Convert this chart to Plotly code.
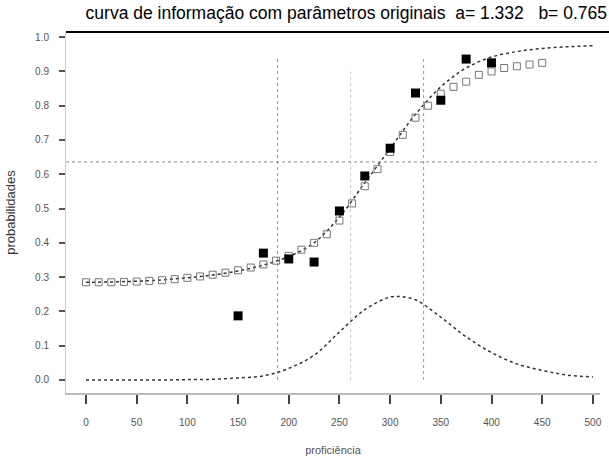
import plotly.graph_objects as go

# curva ajustada
curve_x = [0, 25, 50, 75, 100, 125, 150, 175, 200, 225, 250, 275, 300, 325, 350, 375, 400, 425, 450, 475, 500]
curve_y = [0.285, 0.286, 0.288, 0.292, 0.298, 0.306, 0.318, 0.335, 0.36, 0.40, 0.475, 0.575, 0.675, 0.775,
           0.855, 0.91, 0.942, 0.958, 0.967, 0.972, 0.975]

# probabilidades esperadas (quadrados abertos)
exp_x = [0, 12.5, 25, 37.5, 50, 62.5, 75, 87.5, 100, 112.5, 125, 137.5, 150, 162.5, 175, 187.5, 200, 212.5,
         225, 237.5, 250, 262.5, 275, 287.5, 300, 312.5, 325, 337.5, 350, 362.5, 375, 387.5, 400, 412.5,
         425, 437.5, 450]
exp_y = [0.285, 0.285, 0.285, 0.286, 0.287, 0.289, 0.291, 0.294, 0.298, 0.302, 0.307, 0.313, 0.32, 0.328,
         0.337, 0.348, 0.362, 0.38, 0.40, 0.425, 0.465, 0.515, 0.565, 0.615, 0.665, 0.715, 0.765, 0.80,
         0.835, 0.855, 0.87, 0.89, 0.90, 0.91, 0.915, 0.92, 0.925]

# probabilidades observadas (quadrados cheios)
obs_x = [150, 175, 200, 225, 250, 275, 300, 325, 350, 375, 400]
obs_y = [0.187, 0.37, 0.353, 0.344, 0.493, 0.595, 0.676, 0.837, 0.816, 0.936, 0.925]

# curva de informacao
info_x = [0, 25, 50, 75, 100, 125, 150, 175, 200, 225, 250, 275, 300, 310, 325, 350, 375, 400, 425, 450, 475, 500]
info_y = [0, 0, 0, 0, 0.001, 0.002, 0.006, 0.012, 0.034, 0.072, 0.14, 0.205, 0.242, 0.243, 0.234, 0.183,
          0.126, 0.08, 0.047, 0.028, 0.014, 0.009]

# linhas de referencia
vlines = [189, 261, 333]
vline_top = [0.94, 0.90, 0.94]
hline = 0.636

x_ticks = [0, 50, 100, 150, 200, 250, 300, 350, 400, 450, 500]
y_ticks = [0.0, 0.1, 0.2, 0.3, 0.4, 0.5, 0.6, 0.7, 0.8, 0.9, 1.0]

title_text = 'curva de informação com parâmetros originais\u00a0\u00a0a= 1.332\u00a0\u00a0\u00a0b= 0.765'

fig = go.Figure()

for i, xv in enumerate(vlines):
    fig.add_trace(go.Scatter(
        x=[xv, xv], y=[0, vline_top[i]], mode='lines',
        line=dict(color='#999' if i != 1 else '#c8c8c8', width=1, dash='dot'),
        showlegend=False, hoverinfo='skip',
    ))

fig.add_hline(y=hline, line=dict(color='#888', width=1, dash='dot'))

fig.add_trace(go.Scatter(
    x=curve_x, y=curve_y, mode='lines', line=dict(color='#333', width=1.5, dash='dot'),
    line_shape='spline', showlegend=False,
))
fig.add_trace(go.Scatter(
    x=info_x, y=info_y, mode='lines', line=dict(color='#333', width=1.5, dash='dot'),
    line_shape='spline', showlegend=False,
))
fig.add_trace(go.Scatter(
    x=exp_x, y=exp_y, mode='markers',
    marker=dict(symbol='square-open', size=7, color='#777', line=dict(width=1)),
    showlegend=False,
))
fig.add_trace(go.Scatter(
    x=obs_x, y=obs_y, mode='markers',
    marker=dict(symbol='square', size=9, color='black'),
    showlegend=False,
))

# linha grossa no topo
fig.add_shape(type='line', xref='paper', yref='paper', x0=0, x1=1.02, y0=1, y1=1,
              line=dict(color='black', width=2))

fig.update_layout(
    width=609, height=457,
    margin=dict(l=66, r=9, t=32, b=64),
    paper_bgcolor='white', plot_bgcolor='white',
    font=dict(family='Arial, Liberation Sans, sans-serif', color='#444'),
    title=dict(text=title_text,
               x=607 / 609, xref='container', xanchor='right',
               y=1 - 13 / 457, yref='container', yanchor='middle',
               font=dict(size=17.5, color='black')),
    xaxis=dict(
        range=[-19.7, 507], tickvals=x_ticks, ticks='outside', ticklen=9, tickwidth=1.5,
        tickcolor='#444', showline=True, linecolor='#bbb', linewidth=1.5, showgrid=False,
        zeroline=False, tickfont=dict(size=10, color='#555'), ticklabelstandoff=10,
        automargin=False,
        title=dict(text='proficiência', font=dict(size=11, color='#555'), standoff=20),
    ),
    yaxis=dict(
        range=[-0.038, 1.015], tickvals=y_ticks, tickformat='.1f', ticks='outside', ticklen=6,
        tickwidth=1.5, tickcolor='#555', showline=True, linecolor='#ccc', linewidth=1,
        showgrid=False, zeroline=False, tickfont=dict(size=10, color='#555'), ticklabelstandoff=8,
        automargin=False,
        title=dict(text='probabilidades', font=dict(size=13, color='#333'), standoff=16),
    ),
)

fig.write_html('out.html', config={'displayModeBar': False},
               post_script="document.body.style.margin='0';")
